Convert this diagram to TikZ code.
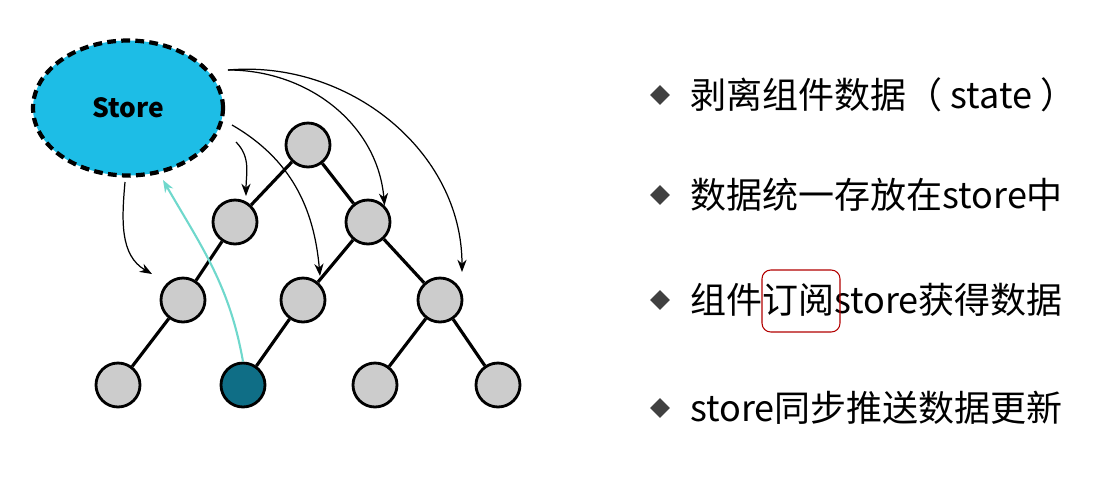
\documentclass[tikz,border=0pt]{standalone}
\usepackage{fontspec}
\setmainfont{Noto Sans CJK SC}
\usetikzlibrary{arrows.meta}
\definecolor{storecyan}{HTML}{1DBDE6}
\definecolor{darkteal}{HTML}{0F6E86}
\definecolor{lineteal}{HTML}{6FD8CC}
\tikzset{
    tnode/.style={circle, draw=black, line width=1.6pt, fill=black!20, minimum size=0.88cm, inner sep=0},
    tedge/.style={line width=1.8pt},
    pushline/.style={-{Stealth[length=7pt]}, line width=0.7pt},
    item/.style={anchor=west, inner sep=0, font=\fontsize{20.5}{24}\selectfont},
    bullet/.style={diamond, fill=black!75, minimum size=0.4cm, inner sep=0}
}
\usetikzlibrary{shapes.geometric}
\begin{document}
\begin{tikzpicture}[x=0.02cm, y=-0.02cm]
    \useasboundingbox (0,0) rectangle (1120,495);
    % tree
    \node[tnode] (r) at (308,145) {};
    \node[tnode] (a) at (235,222) {};
    \node[tnode] (b) at (368,222) {};
    \node[tnode] (c) at (183,300) {};
    \node[tnode] (d) at (303,300) {};
    \node[tnode] (e) at (440,300) {};
    \node[tnode] (f) at (118,385) {};
    \node[tnode, fill=darkteal] (g) at (243,385) {};
    \node[tnode] (h) at (375,385) {};
    \node[tnode] (k) at (498,385) {};
    \draw[tedge] (r) -- (a) (r) -- (b) (a) -- (c) (b) -- (d) (b) -- (e)
        (c) -- (f) (d) -- (g) (e) -- (h) (e) -- (k);
    % store
    \node[ellipse, draw=black, dash pattern=on 5pt off 3pt, line width=2.4pt, fill=storecyan,
        minimum width=3.8cm, minimum height=2.7cm, font=\bfseries\fontsize{15}{18}\selectfont] (store) at (128,108) {Store};
    \coordinate (s1) at (228,70);
    \coordinate (s2) at (232,125);
    \coordinate (s3) at (236,142);
    \coordinate (s4) at (125,182);
    \draw[pushline] (s1) to[out=0, in=95] (b.north east);
    \draw[pushline] (s1) to[out=5, in=90] (462,272);
    \draw[pushline] (s2) to[out=-30, in=95] (320,276);
    \draw[pushline] (s3) to[out=-45, in=90] (246,196);
    \draw[pushline] (s4) to[out=-95, in=150] (152,274);
    \draw[pushline, draw=lineteal, line width=1.2pt] (g.north) to[out=100, in=-60] (163,180);
    % items
    \foreach \y in {95,195,300,408}
        \node[bullet] at (660,\y) {};
    \node[item] (t1) at (690,95) {剥离组件数据（ state ）};
    \node[item] (t2) at (690,195) {数据统一存放在store中};
    \node[item] (t3) at (690,300) {组件订阅store获得数据};
    \node[item] (t4) at (690,408) {store同步推送数据更新};
    \draw[red!70!black, rounded corners=5pt, line width=0.6pt] (762,270) rectangle (840,332);
\end{tikzpicture}
\end{document}
